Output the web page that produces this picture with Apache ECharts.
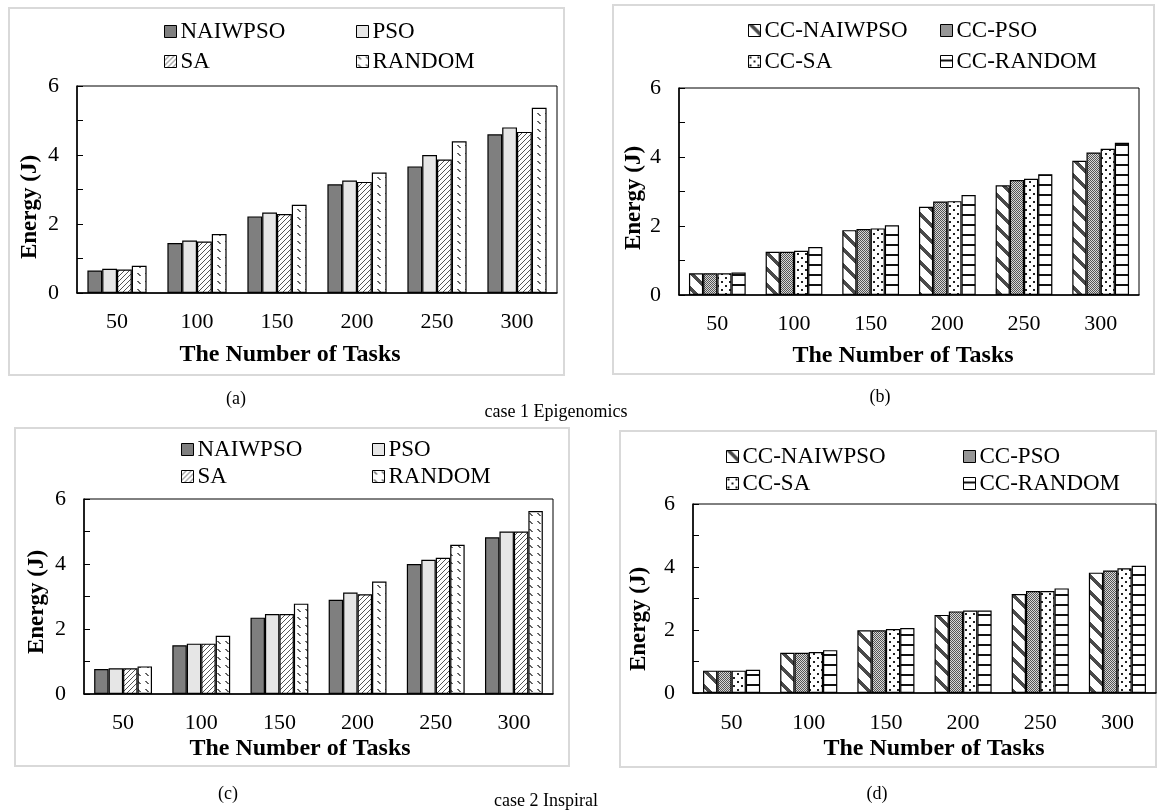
<!DOCTYPE html>
<html>
<head>
<meta charset="utf-8">
<script src="https://cdn.jsdelivr.net/npm/echarts@6/dist/echarts.min.js"></script>
<style>
html, body { margin: 0; padding: 0; background: #fff; }
#chart { width: 1158px; height: 812px; }
</style>
</head>
<body>
<div id="chart"></div>
<script>
// categories
const tasks = ['50', '100', '150', '200', '250', '300']
const namesAC = ['NAIWPSO', 'PSO', 'SA', 'RANDOM']
const namesBD = ['CC-NAIWPSO', 'CC-PSO', 'CC-SA', 'CC-RANDOM']
const yTicks = [0, 2, 4, 6]

// case 1 Epigenomics (a)
const epiNAIWPSO = [0.65, 1.45, 2.22, 3.15, 3.67, 4.60]
const epiPSO = [0.70, 1.52, 2.33, 3.26, 4.00, 4.80]
const epiSA = [0.68, 1.49, 2.29, 3.22, 3.87, 4.67]
const epiRANDOM = [0.79, 1.71, 2.56, 3.49, 4.40, 5.37]
// case 1 Epigenomics (b)
const epiCCNAIWPSO = [0.63, 1.25, 1.88, 2.56, 3.18, 3.89]
const epiCCPSO = [0.63, 1.25, 1.91, 2.71, 3.33, 4.13]
const epiCCSA = [0.63, 1.28, 1.93, 2.72, 3.37, 4.24]
const epiCCRANDOM = [0.65, 1.39, 2.02, 2.90, 3.50, 4.41]
// case 2 Inspiral (c)
const insNAIWPSO = [0.77, 1.50, 2.35, 2.90, 4.00, 4.82]
const insPSO = [0.79, 1.55, 2.46, 3.12, 4.13, 5.00]
const insSA = [0.79, 1.55, 2.46, 3.07, 4.19, 5.00]
const insRANDOM = [0.85, 1.79, 2.78, 3.46, 4.59, 5.63]
// case 2 Inspiral (d)
const insCCNAIWPSO = [0.71, 1.28, 1.99, 2.48, 3.14, 3.82]
const insCCPSO = [0.71, 1.28, 1.99, 2.59, 3.24, 3.89]
const insCCSA = [0.71, 1.30, 2.03, 2.62, 3.24, 3.96]
const insCCRANDOM = [0.74, 1.36, 2.06, 2.62, 3.32, 4.04]

const FONT = '"Liberation Serif", "Times New Roman", serif'

function makePattern (w, h, draw) {
  let c = document.createElement('canvas')
  c.width = w
  c.height = h
  let ctx = c.getContext('2d')
  ctx.fillStyle = '#fff'
  ctx.fillRect(0, 0, w, h)
  draw(ctx, w, h)
  return { image: c, repeat: 'repeat' }
}

// fill patterns
const fillSA = makePattern(5, 5, function (ctx, w) {
  ctx.fillStyle = '#555'
  for (let i = 0; i < w; i++) ctx.fillRect(i, w - 1 - i, 1, 1)
})
const fillRANDOM = makePattern(8, 8, function (ctx) {
  ctx.fillStyle = '#666'
  for (let i = 1; i < 4; i++) { ctx.fillRect(i, i, 1, 1); ctx.fillRect(i + 1, i, 1, 1) }
})
const fillCCNAIWPSO = makePattern(16, 16, function (ctx, w) {
  ctx.fillStyle = '#4a4a4a'
  for (let y = 0; y < w; y++) {
    for (let k = 0; k < 5; k++) ctx.fillRect((y + k) % w, y, 1, 1)
  }
})
const fillCCPSO = makePattern(2, 2, function (ctx) {
  ctx.fillStyle = '#d8d8d8'
  ctx.fillRect(0, 0, 2, 2)
  ctx.fillStyle = '#555'
  ctx.fillRect(0, 0, 1, 1)
  ctx.fillRect(1, 1, 1, 1)
})
const fillCCSA = makePattern(8, 8, function (ctx) {
  ctx.fillStyle = '#222'
  ctx.fillRect(1, 1, 2, 2)
  ctx.fillRect(5, 5, 2, 2)
})
const fillCCRANDOM = makePattern(4, 10, function (ctx) {
  ctx.fillStyle = '#111'
  ctx.fillRect(0, 4, 4, 2)
})

const fillsAC = ['#7f7f7f', '#e6e6e6', fillSA, fillRANDOM]
const fillsBD = [fillCCNAIWPSO, fillCCPSO, fillCCSA, fillCCRANDOM]

// panel layout
const panels = [
  { grid: [77, 86, 480, 207], frame: [9, 8, 555, 367], names: namesAC, fills: fillsAC,
    data: [epiNAIWPSO, epiPSO, epiSA, epiRANDOM],
    legend: [[159, 30], [351, 30], [159, 60], [351, 60]],
    xTitle: [290, 355], yTitle: [30, 207], labelMargin: 18 },
  { grid: [679, 88, 460, 207], frame: [613, 5, 541, 369], names: namesBD, fills: fillsBD,
    data: [epiCCNAIWPSO, epiCCPSO, epiCCSA, epiCCRANDOM],
    legend: [[743, 29], [935, 29], [743, 60], [935, 60]],
    xTitle: [903, 356], yTitle: [634, 198], labelMargin: 18 },
  { grid: [84, 499, 469, 195], frame: [15, 428, 554, 338], names: namesAC, fills: fillsAC,
    data: [insNAIWPSO, insPSO, insSA, insRANDOM],
    legend: [[176, 448], [367, 448], [176, 475], [367, 475]],
    xTitle: [300, 749], yTitle: [37, 602], labelMargin: 18 },
  { grid: [693, 504, 463, 189], frame: [620, 431, 536, 336], names: namesBD, fills: fillsBD,
    data: [insCCNAIWPSO, insCCPSO, insCCSA, insCCRANDOM],
    legend: [[721, 455], [958, 455], [721, 482], [958, 482]],
    xTitle: [934, 749], yTitle: [639, 619], labelMargin: 19 }
]

let grids = []
let xAxes = []
let yAxes = []
let series = []
let legends = []
let graphics = []

panels.forEach(function (p, pi) {
  grids.push({
    left: p.grid[0], top: p.grid[1], width: p.grid[2], height: p.grid[3],
    show: true, borderColor: '#000', borderWidth: 1, containLabel: false
  })
  xAxes.push({
    type: 'category', gridIndex: pi, data: tasks,
    axisLine: { lineStyle: { color: '#000', width: 1.5 } },
    axisTick: { inside: true, length: 6, lineStyle: { color: '#000' } },
    axisLabel: { color: '#000', fontFamily: FONT, fontSize: 22, margin: p.labelMargin }
  })
  yAxes.push({
    type: 'value', gridIndex: pi, min: 0, max: 6, interval: 1,
    axisLine: { show: true, lineStyle: { color: '#000', width: 1.5 } },
    axisTick: { show: true, inside: true, length: 6, lineStyle: { color: '#000' } },
    splitLine: { show: false },
    axisLabel: {
      color: '#000', fontFamily: FONT, fontSize: 22, margin: 18,
      formatter: function (v) { return yTicks.indexOf(v) >= 0 ? String(v) : '' }
    }
  })
  p.names.forEach(function (name, si) {
    series.push({
      name: name, type: 'bar', xAxisIndex: pi, yAxisIndex: pi,
      data: p.data[si],
      barGap: '0%', barCategoryGap: '26%',
      itemStyle: { color: p.fills[si], borderColor: '#000', borderWidth: 1.2 },
      emphasis: { disabled: true }
    })
    legends.push({
      data: [name], left: p.legend[si][0], top: p.legend[si][1] - 15,
      icon: 'rect', itemWidth: 12, itemHeight: 12, itemGap: 0,
      itemStyle: { borderColor: '#000', borderWidth: 1 },
      textStyle: { color: '#000', fontFamily: FONT, fontSize: 23, padding: [0, 0, 0, -1] },
      selectedMode: false
    })
  })
  graphics.push({
    type: 'rect', silent: true, z: -1,
    shape: { x: p.frame[0], y: p.frame[1], width: p.frame[2], height: p.frame[3] },
    style: { fill: 'none', stroke: '#d9d9d9', lineWidth: 2 }
  })
  graphics.push({
    type: 'text', silent: true, x: p.xTitle[0], y: p.xTitle[1],
    style: { text: 'The Number of Tasks', fill: '#000', font: 'bold 24px ' + FONT, align: 'center', verticalAlign: 'middle' }
  })
  graphics.push({
    type: 'text', silent: true, x: p.yTitle[0], y: p.yTitle[1], rotation: Math.PI / 2,
    style: { text: 'Energy (J)', fill: '#000', font: 'bold 23px ' + FONT, align: 'center', verticalAlign: 'middle' }
  })
})

// captions
const captions = [
  ['(a)', 236, 399], ['(b)', 880, 397], ['case 1 Epigenomics', 556, 412],
  ['(c)', 228, 794], ['(d)', 877, 794], ['case 2 Inspiral', 546, 801]
]
captions.forEach(function (c) {
  graphics.push({
    type: 'text', silent: true, x: c[1], y: c[2],
    style: { text: c[0], fill: '#000', font: '18px ' + FONT, align: 'center', verticalAlign: 'middle' }
  })
})

let chart = echarts.init(document.getElementById('chart'), null, { renderer: 'canvas' })
chart.setOption({
  animation: false,
  backgroundColor: '#fff',
  grid: grids,
  xAxis: xAxes,
  yAxis: yAxes,
  legend: legends,
  series: series,
  graphic: graphics
})
</script>
</body>
</html>
